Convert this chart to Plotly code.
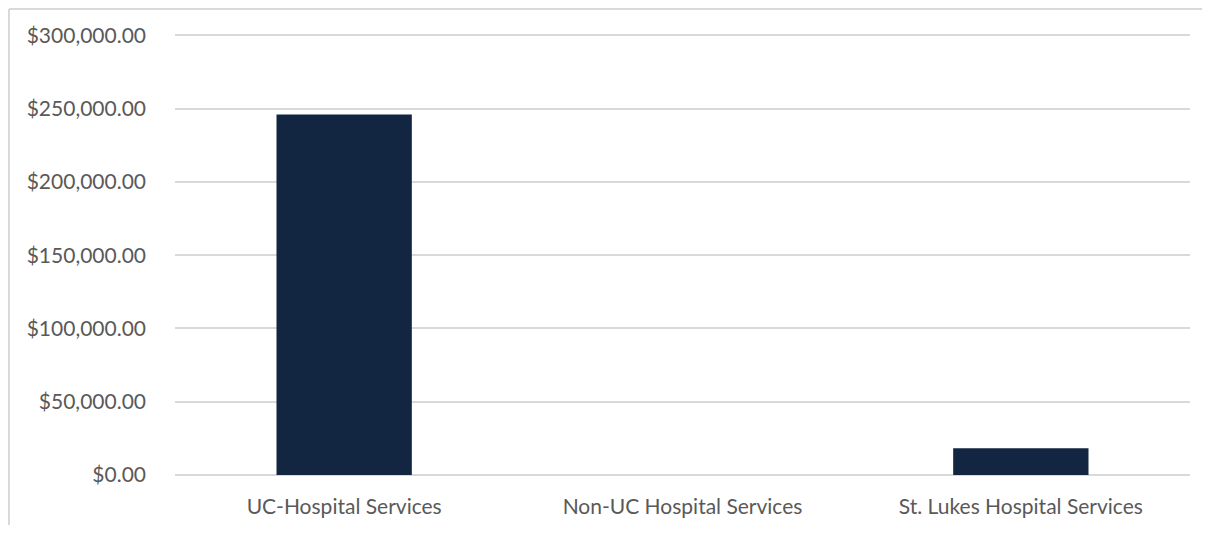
import plotly.graph_objects as go

categories = ["UC-Hospital Services", "Non-UC Hospital Services", "St. Lukes Hospital Services"]
values = [246000, 0, 18200]
tick_vals = [0, 50000, 100000, 150000, 200000, 250000, 300000]
tick_text = ["$0.00", "$50,000.00", "$100,000.00", "$150,000.00", "$200,000.00", "$250,000.00", "$300,000.00"]

fig = go.Figure(go.Bar(x=categories, y=values, marker=dict(color="#132641", line=dict(width=0))))

# page body has an 8px default margin, so the figure is sized to fit inside the window
W, H = 1194, 517
L, R, T, B = 167, 12, 20, 50
pw, ph = W - L - R, H - T - B

bx0 = (1 - L) / pw
by1 = (H - B - 1) / ph
fig.update_layout(
    width=W, height=H,
    margin=dict(l=L, r=R, t=T, b=B),
    paper_bgcolor="white", plot_bgcolor="white",
    bargap=0.6,
    showlegend=False,
    font=dict(family="Lato, Carlito, Calibri, sans-serif", size=21, color="#595959"),
    xaxis=dict(showgrid=False, showline=False, zeroline=False, ticks="", automargin=False,
               ticklabelstandoff=17, tickfont=dict(size=21, color="#595959")),
    yaxis=dict(range=[0, 305000], tickvals=tick_vals, ticktext=tick_text, automargin=False,
               showgrid=True, gridcolor="#d9d9d9", gridwidth=1.5,
               zeroline=True, zerolinecolor="#d9d9d9", zerolinewidth=1.5,
               showline=False, ticks="", ticklabelstandoff=28,
               tickfont=dict(size=21, color="#595959")),
    shapes=[
        dict(type="line", xref="paper", yref="paper", x0=bx0, x1=(W - L) / pw, y0=by1, y1=by1,
             line=dict(color="#d9d9d9", width=2), layer="below"),
        dict(type="line", xref="paper", yref="paper", x0=bx0, x1=bx0, y0=-B / ph, y1=by1,
             line=dict(color="#d9d9d9", width=2), layer="below"),
    ],
)

fig.write_html("out.html")
